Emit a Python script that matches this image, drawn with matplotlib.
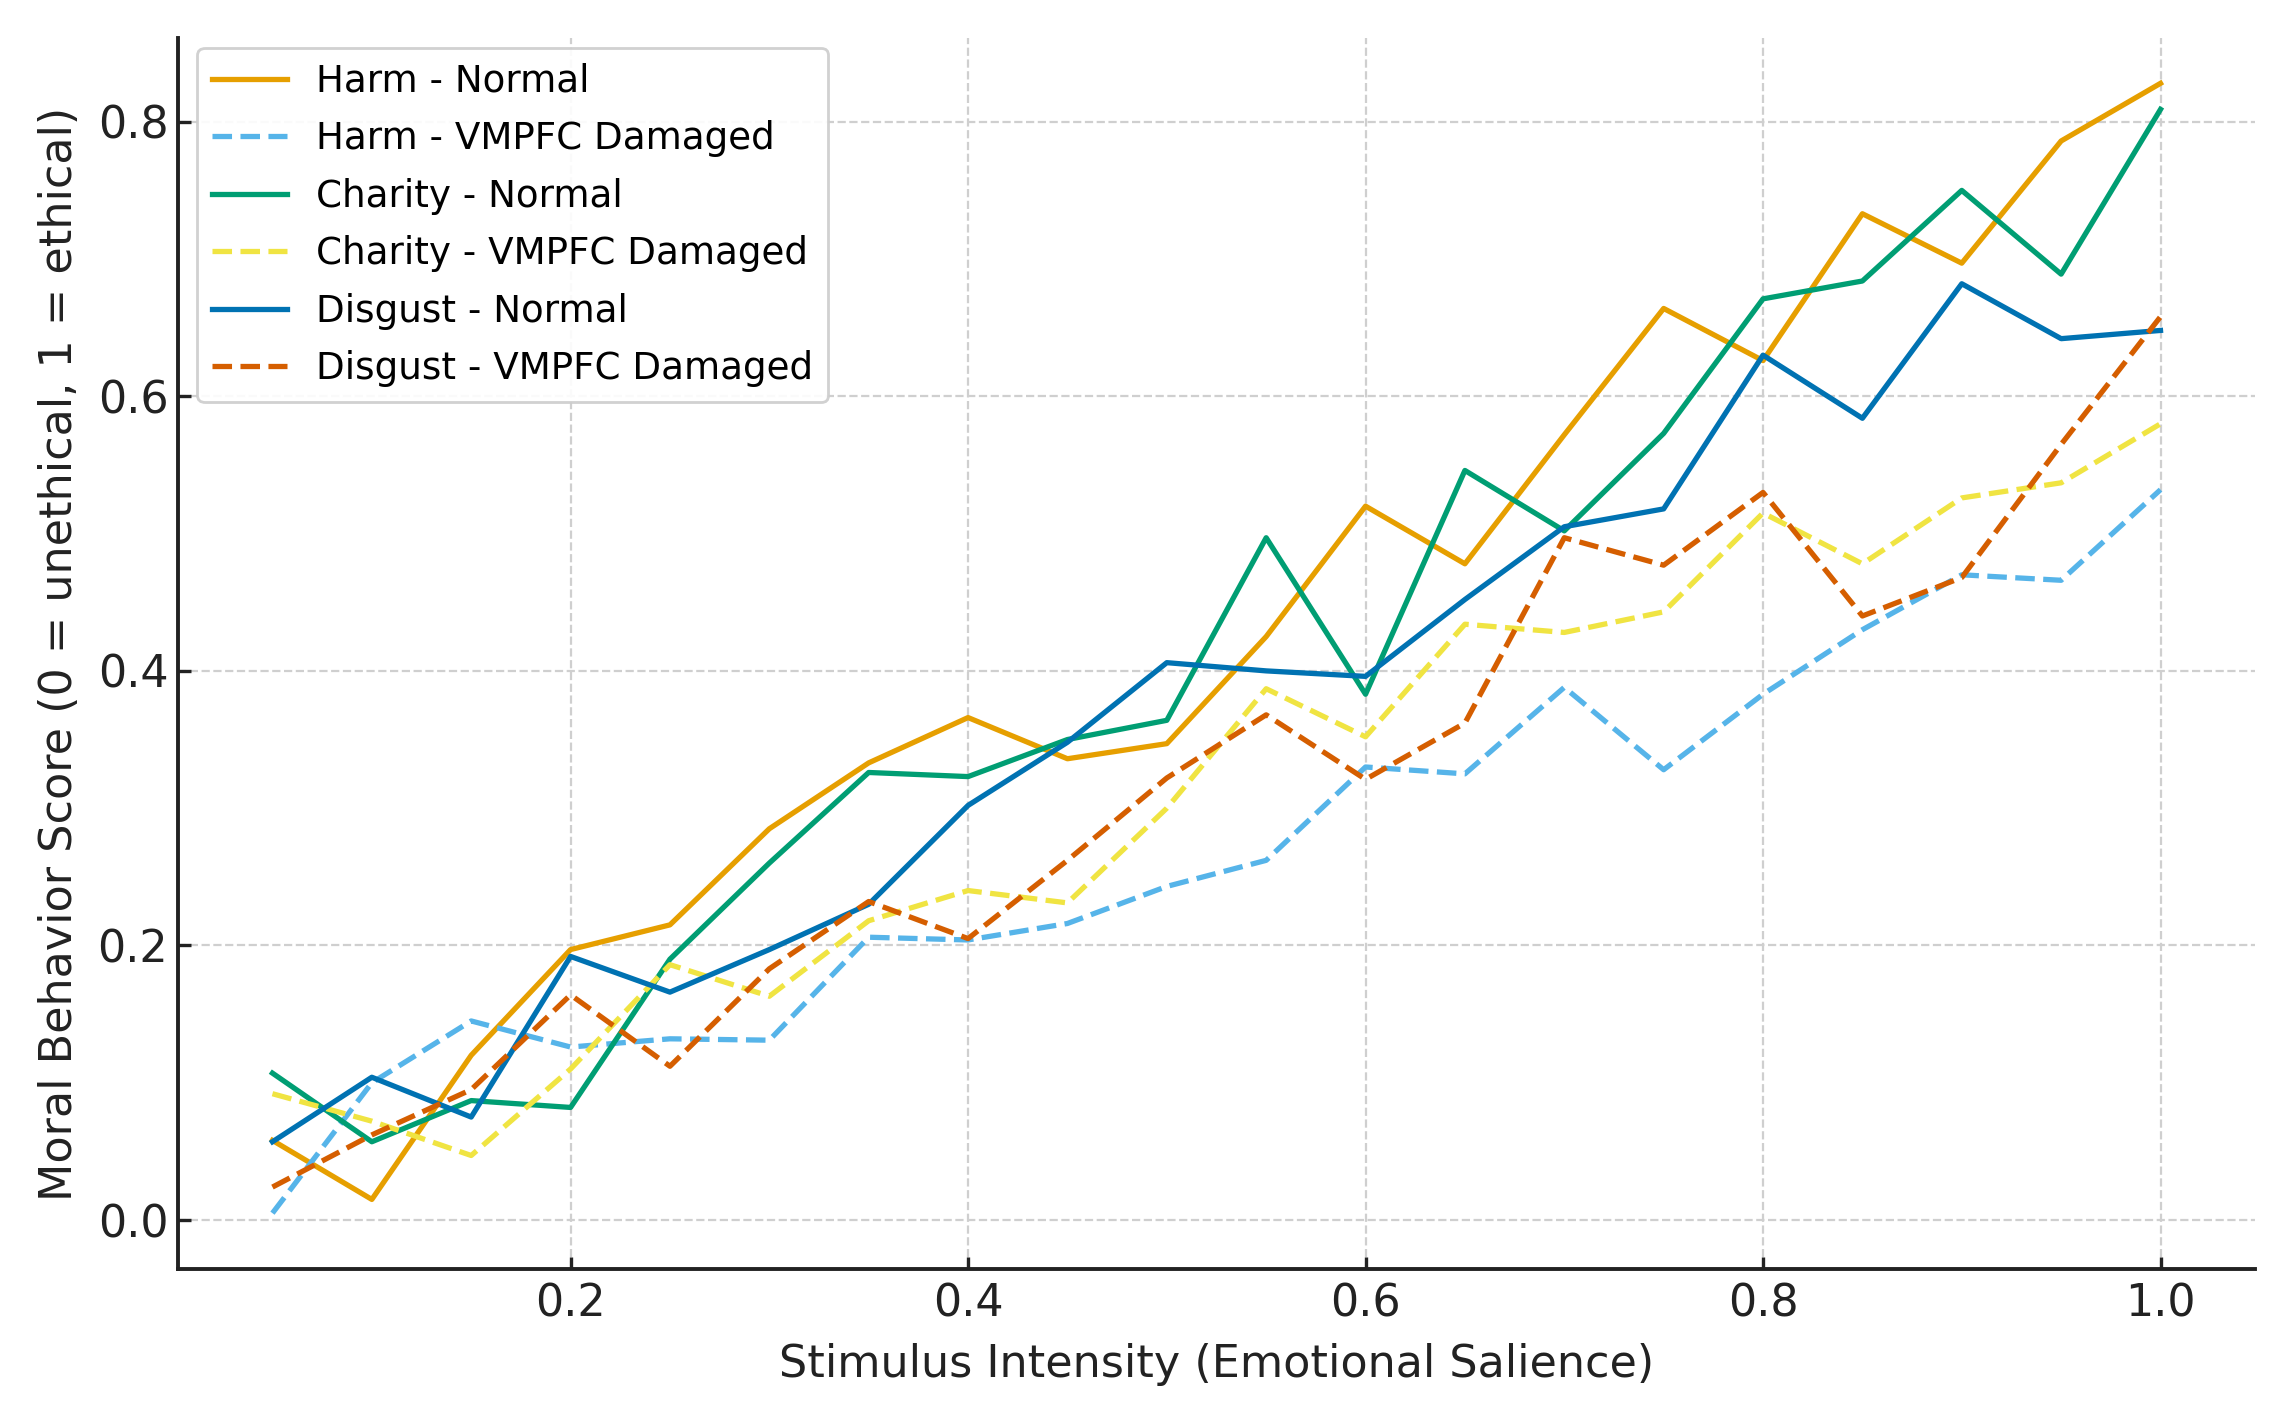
import numpy as np
import matplotlib
matplotlib.use("Agg")
import matplotlib.pyplot as plt

# stimulus intensity levels
intensity = [0.05, 0.10, 0.15, 0.20, 0.25, 0.30, 0.35, 0.40, 0.45, 0.50,
             0.55, 0.60, 0.65, 0.70, 0.75, 0.80, 0.85, 0.90, 0.95, 1.00]

harm_normal = [0.058, 0.015, 0.120, 0.197, 0.215, 0.285, 0.333, 0.366, 0.336, 0.347,
               0.425, 0.520, 0.478, 0.572, 0.664, 0.626, 0.733, 0.697, 0.786, 0.828]
harm_damaged = [0.005, 0.100, 0.145, 0.126, 0.132, 0.131, 0.206, 0.204, 0.216, 0.243,
                0.262, 0.330, 0.325, 0.388, 0.328, 0.383, 0.430, 0.470, 0.466, 0.532]
charity_normal = [0.107, 0.057, 0.087, 0.082, 0.190, 0.260, 0.326, 0.323, 0.350, 0.364,
                  0.497, 0.383, 0.546, 0.502, 0.573, 0.671, 0.684, 0.750, 0.689, 0.809]
charity_damaged = [0.092, 0.072, 0.047, 0.110, 0.186, 0.163, 0.218, 0.240, 0.231, 0.300,
                   0.387, 0.352, 0.434, 0.428, 0.443, 0.515, 0.478, 0.526, 0.537, 0.580]
disgust_normal = [0.057, 0.104, 0.075, 0.192, 0.166, 0.197, 0.230, 0.302, 0.348, 0.406,
                  0.400, 0.396, 0.452, 0.505, 0.518, 0.630, 0.584, 0.682, 0.642, 0.648]
disgust_damaged = [0.024, 0.062, 0.095, 0.164, 0.112, 0.183, 0.232, 0.205, 0.262, 0.322,
                   0.368, 0.321, 0.362, 0.497, 0.477, 0.530, 0.440, 0.468, 0.565, 0.658]

series = [
    ("Harm - Normal", harm_normal, "#E69F00", "-"),
    ("Harm - VMPFC Damaged", harm_damaged, "#56B4E9", "--"),
    ("Charity - Normal", charity_normal, "#009E73", "-"),
    ("Charity - VMPFC Damaged", charity_damaged, "#F0E442", "--"),
    ("Disgust - Normal", disgust_normal, "#0072B2", "-"),
    ("Disgust - VMPFC Damaged", disgust_damaged, "#D55E00", "--"),
]

plt.rcParams['font.family'] = ['DejaVu Sans']

fig, ax = plt.subplots(figsize=(11.385, 7.04), dpi=200)
fig.subplots_adjust(left=0.0782, right=0.9903, top=0.973, bottom=0.0987)

for name, vals, col, ls in series:
    ax.plot(intensity, vals, ls, color=col, lw=1.9, label=name)

ax.set_xlim(0.0025, 1.0475)
ax.set_ylim(-0.0357, 0.861)

ax.grid(True, linestyle='--', color='#cfcfcf', linewidth=0.8)
ax.set_axisbelow(True)
for s in ['top', 'right']:
    ax.spines[s].set_visible(False)
for s in ['left', 'bottom']:
    ax.spines[s].set_color('#222222')
    ax.spines[s].set_linewidth(1.4)

ax.set_xticks([0.2, 0.4, 0.6, 0.8, 1.0])
ax.set_yticks([0.0, 0.2, 0.4, 0.6, 0.8])
ax.tick_params(direction='in', length=4.5, width=1.2, labelsize=16, colors='#222222')
ax.tick_params(axis='x', pad=5)

ax.set_xlabel("Stimulus Intensity (Emotional Salience)", fontsize=16, color='#222222', labelpad=6)
ax.set_ylabel("Moral Behavior Score (0 = unethical, 1 = ethical)", fontsize=16, color='#222222', labelpad=6)

leg = ax.legend(loc='upper left', bbox_to_anchor=(0.0092, 0.992), borderaxespad=0,
                fontsize=13.4, labelspacing=0.55, frameon=True, framealpha=0.9,
                edgecolor='#cccccc')
leg.get_frame().set_linewidth(1.0)

plt.savefig('out.png', dpi=200)
